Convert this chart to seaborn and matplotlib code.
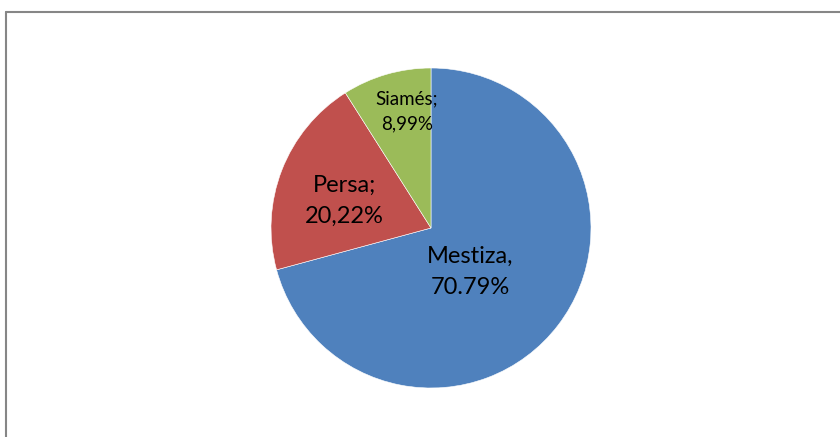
import matplotlib.pyplot as plt
import seaborn as sns
from matplotlib.lines import Line2D

# Data
breeds = ["Mestiza", "Persa", "Siamés"]
shares = [70.79, 20.22, 8.99]
labels = ["Mestiza,\n70.79%", "Persa;\n20,22%", "Siamés;\n8,99%"]
colors = ["#4F81BD", "#C0504D", "#9BBB59"]

sns.set_theme(style="white")
plt.rcParams['font.family'] = ['Lato', 'DejaVu Sans']

fig = plt.figure(figsize=(8.4, 4.37), dpi=100)
ax = fig.add_axes([271 / 840, 49 / 437, 320 / 840, 320 / 437])

wedges, _ = ax.pie(shares, colors=sns.color_palette(colors), startangle=90,
                   counterclock=False, radius=1,
                   wedgeprops=dict(edgecolor="white", linewidth=0.4))
ax.set_xlim(-1, 1)
ax.set_ylim(-1, 1)
ax.axis("off")

# label placement (data coords inside the pie) and sizes
label_pos = [(0.245, -0.275), (-0.54, 0.17), (-0.15, 0.73)]
label_size = [17, 17, 13.5]
for txt, (x, y), s in zip(labels, label_pos, label_size):
    ax.text(x, y, txt, ha="center", va="center", fontsize=s,
            color="black", linespacing=1.55)

# chart border (only top and left visible in the crop)
x0 = 5.5 / 840
y0 = 1 - 11.5 / 437
fig.add_artist(Line2D([x0, 1.01], [y0, y0], transform=fig.transFigure,
                      color="#868686", linewidth=1.5))
fig.add_artist(Line2D([x0, x0], [y0, -0.01], transform=fig.transFigure,
                      color="#868686", linewidth=1.5))

fig.savefig("out.png", dpi=100)
